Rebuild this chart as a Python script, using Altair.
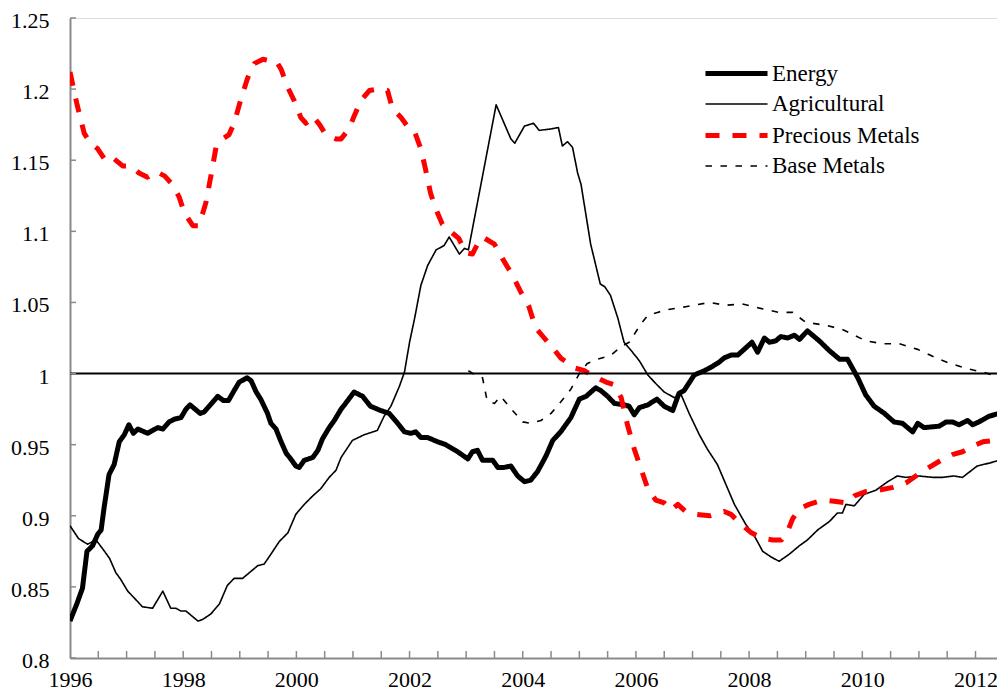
import altair as alt
import pandas as pd

series_names = ["Energy", "Agricultural", "Precious Metals", "Base Metals"]
series_colors = ["#000000", "#000000", "#FF0000", "#000000"]
series_widths = [5, 1.6, 5, 1.6]
series_dashes = [[1, 0], [1, 0], [14, 13], [6.5, 8.5]]

energy_years = [1996.00, 1996.12, 1996.22, 1996.30, 1996.40, 1996.49, 1996.55, 1996.60, 1996.69, 1996.78,
                1996.87, 1996.96, 1997.04, 1997.12, 1997.20, 1997.37, 1997.55, 1997.64, 1997.75, 1997.85,
                1997.96, 1998.05, 1998.12, 1998.30, 1998.37, 1998.61, 1998.71, 1998.80, 1998.90, 1998.99,
                1999.13, 1999.20, 1999.29, 1999.37, 1999.49, 1999.55, 1999.64, 1999.73, 1999.82, 1999.90,
                1999.99, 2000.05, 2000.14, 2000.29, 2000.38, 2000.46, 2000.58, 2000.67, 2000.79, 2000.85,
                2001.02, 2001.17, 2001.31, 2001.49, 2001.64, 2001.79, 2001.91, 2002.02, 2002.11, 2002.20,
                2002.32, 2002.50, 2002.64, 2002.85, 2003.03, 2003.11, 2003.20, 2003.29, 2003.47, 2003.56,
                2003.67, 2003.79, 2003.91, 2004.03, 2004.14, 2004.26, 2004.41, 2004.53, 2004.67, 2004.85,
                2005.00, 2005.12, 2005.29, 2005.38, 2005.50, 2005.62, 2005.79, 2005.88, 2005.97, 2006.06,
                2006.21, 2006.37, 2006.50, 2006.65, 2006.76, 2006.85, 2007.03, 2007.21, 2007.35, 2007.47,
                2007.56, 2007.68, 2007.80, 2007.94, 2008.05, 2008.15, 2008.27, 2008.36, 2008.47, 2008.56,
                2008.68, 2008.80, 2008.89, 2009.03, 2009.24, 2009.42, 2009.60, 2009.74, 2009.92, 2010.06,
                2010.21, 2010.39, 2010.56, 2010.71, 2010.89, 2010.98, 2011.09, 2011.36, 2011.48, 2011.59,
                2011.71, 2011.86, 2011.95, 2012.06, 2012.24, 2012.42, 2012.54]
energy_values = [0.826, 0.838, 0.849, 0.875, 0.879, 0.887, 0.890, 0.905, 0.929, 0.936,
                 0.952, 0.957, 0.964, 0.958, 0.961, 0.958, 0.962, 0.961, 0.966, 0.968,
                 0.969, 0.975, 0.978, 0.972, 0.973, 0.984, 0.981, 0.981, 0.988, 0.994,
                 0.997, 0.995, 0.987, 0.982, 0.972, 0.965, 0.961, 0.952, 0.944, 0.940,
                 0.935, 0.934, 0.939, 0.941, 0.946, 0.954, 0.962, 0.967, 0.975, 0.978,
                 0.987, 0.984, 0.977, 0.974, 0.972, 0.965, 0.959, 0.958, 0.959, 0.955,
                 0.955, 0.952, 0.950, 0.945, 0.940, 0.945, 0.946, 0.939, 0.939, 0.934,
                 0.934, 0.935, 0.928, 0.924, 0.925, 0.931, 0.942, 0.953, 0.959, 0.969,
                 0.982, 0.984, 0.990, 0.988, 0.984, 0.979, 0.978, 0.977, 0.971, 0.976,
                 0.978, 0.982, 0.977, 0.974, 0.986, 0.988, 0.999, 1.002, 1.005, 1.008,
                 1.011, 1.013, 1.013, 1.018, 1.022, 1.015, 1.025, 1.022, 1.023, 1.026,
                 1.025, 1.027, 1.024, 1.030, 1.023, 1.016, 1.010, 1.010, 0.997, 0.985,
                 0.977, 0.972, 0.966, 0.965, 0.959, 0.965, 0.962, 0.963, 0.966, 0.966,
                 0.964, 0.967, 0.964, 0.966, 0.970, 0.972, 0.971]

agri_years = [1996.00, 1996.15, 1996.31, 1996.46, 1996.61, 1996.70, 1996.81, 1996.90, 1997.02, 1997.14,
              1997.28, 1997.46, 1997.64, 1997.78, 1997.87, 1997.96, 1998.05, 1998.26, 1998.34, 1998.49,
              1998.64, 1998.78, 1998.90, 1999.05, 1999.17, 1999.32, 1999.43, 1999.55, 1999.70, 1999.85,
              1999.99, 2000.14, 2000.29, 2000.43, 2000.58, 2000.70, 2000.79, 2000.99, 2001.20, 2001.43,
              2001.55, 2001.67, 2001.82, 2001.91, 2002.00, 2002.09, 2002.20, 2002.32, 2002.47, 2002.61,
              2002.70, 2002.88, 2002.97, 2003.04, 2003.29, 2003.53, 2003.79, 2003.86, 2004.03, 2004.19,
              2004.29, 2004.50, 2004.63, 2004.70, 2004.79, 2004.88, 2004.97, 2005.03, 2005.20, 2005.37,
              2005.45, 2005.55, 2005.68, 2005.79, 2005.94, 2006.06, 2006.21, 2006.35, 2006.50, 2006.68,
              2006.80, 2006.94, 2007.12, 2007.26, 2007.44, 2007.59, 2007.74, 2007.94, 2008.09, 2008.24,
              2008.39, 2008.53, 2008.71, 2008.89, 2009.03, 2009.21, 2009.42, 2009.56, 2009.65, 2009.71,
              2009.86, 2010.03, 2010.24, 2010.45, 2010.62, 2010.77, 2011.00, 2011.24, 2011.42, 2011.62,
              2011.77, 2012.03, 2012.24, 2012.42, 2012.54]
agri_values = [0.893, 0.884, 0.880, 0.883, 0.875, 0.870, 0.860, 0.855, 0.847, 0.842,
               0.836, 0.835, 0.847, 0.835, 0.835, 0.833, 0.833, 0.826, 0.827, 0.831,
               0.838, 0.851, 0.856, 0.856, 0.860, 0.865, 0.866, 0.873, 0.882, 0.888,
               0.901, 0.908, 0.914, 0.919, 0.927, 0.932, 0.941, 0.953, 0.957, 0.960,
               0.970, 0.977, 0.991, 1.001, 1.022, 1.039, 1.062, 1.076, 1.087, 1.090,
               1.096, 1.084, 1.088, 1.087, 1.139, 1.189, 1.165, 1.162, 1.174, 1.176,
               1.171, 1.172, 1.173, 1.160, 1.163, 1.159, 1.141, 1.133, 1.091, 1.063,
               1.061, 1.055, 1.039, 1.022, 1.015, 1.009, 0.999, 0.993, 0.987, 0.983,
               0.985, 0.972, 0.957, 0.947, 0.936, 0.922, 0.908, 0.894, 0.886, 0.875,
               0.871, 0.868, 0.873, 0.879, 0.883, 0.890, 0.896, 0.902, 0.902, 0.908,
               0.907, 0.915, 0.918, 0.924, 0.928, 0.927, 0.928, 0.927, 0.927, 0.928,
               0.927, 0.935, 0.937, 0.939, 0.943]

precious_years = [1996.00, 1996.12, 1996.25, 1996.36, 1996.49, 1996.64, 1996.78, 1996.93, 1997.08, 1997.22,
                  1997.37, 1997.52, 1997.67, 1997.81, 1997.93, 1998.02, 1998.17, 1998.28, 1998.40, 1998.49,
                  1998.58, 1998.70, 1998.81, 1998.90, 1999.02, 1999.14, 1999.26, 1999.41, 1999.52, 1999.64,
                  1999.73, 1999.85, 1999.96, 2000.08, 2000.17, 2000.29, 2000.41, 2000.52, 2000.70, 2000.79,
                  2000.93, 2001.02, 2001.14, 2001.29, 2001.43, 2001.61, 2001.70, 2001.85, 2001.96, 2002.08,
                  2002.20, 2002.28, 2002.37, 2002.46, 2002.58, 2002.72, 2002.87, 2002.99, 2003.11, 2003.20,
                  2003.29, 2003.50, 2003.64, 2003.82, 2003.97, 2004.11, 2004.23, 2004.38, 2004.53, 2004.67,
                  2004.91, 2005.09, 2005.26, 2005.47, 2005.62, 2005.74, 2005.85, 2005.97, 2006.09, 2006.21,
                  2006.35, 2006.50, 2006.62, 2006.74, 2006.88, 2007.06, 2007.30, 2007.56, 2007.68, 2007.83,
                  2008.04, 2008.24, 2008.42, 2008.57, 2008.68, 2008.77, 2008.89, 2009.06, 2009.30, 2009.54,
                  2009.72, 2009.86, 2010.06, 2010.30, 2010.54, 2010.77, 2010.98, 2011.18, 2011.39, 2011.59,
                  2011.77, 2011.95, 2012.13, 2012.33, 2012.54]
precious_values = [1.212, 1.190, 1.169, 1.162, 1.158, 1.149, 1.151, 1.146, 1.146, 1.141,
                   1.138, 1.142, 1.139, 1.133, 1.124, 1.113, 1.104, 1.104, 1.120, 1.139,
                   1.159, 1.165, 1.168, 1.176, 1.193, 1.208, 1.218, 1.221, 1.220, 1.220,
                   1.214, 1.201, 1.192, 1.180, 1.176, 1.181, 1.175, 1.168, 1.165, 1.165,
                   1.172, 1.181, 1.192, 1.199, 1.200, 1.199, 1.186, 1.180, 1.174, 1.171,
                   1.158, 1.144, 1.127, 1.116, 1.105, 1.100, 1.095, 1.085, 1.084, 1.091,
                   1.096, 1.091, 1.081, 1.069, 1.057, 1.047, 1.032, 1.025, 1.018, 1.011,
                   1.004, 1.002, 0.998, 0.994, 0.992, 0.983, 0.964, 0.947, 0.933, 0.919,
                   0.911, 0.909, 0.904, 0.908, 0.903, 0.901, 0.900, 0.903, 0.901, 0.895,
                   0.888, 0.884, 0.883, 0.883, 0.889, 0.898, 0.905, 0.908, 0.911, 0.910,
                   0.909, 0.914, 0.917, 0.918, 0.920, 0.923, 0.929, 0.934, 0.939, 0.943,
                   0.945, 0.949, 0.952, 0.953, 0.952]

base_years = [2003.04, 2003.20, 2003.29, 2003.37, 2003.50, 2003.61, 2003.82, 2004.00, 2004.14, 2004.32,
              2004.50, 2004.67, 2004.85, 2005.00, 2005.14, 2005.32, 2005.56, 2005.74, 2005.88, 2006.09,
              2006.21, 2006.38, 2006.56, 2006.88, 2007.30, 2007.59, 2007.88, 2008.18, 2008.53, 2008.77,
              2009.00, 2009.35, 2009.65, 2010.06, 2010.36, 2010.65, 2010.98, 2011.36, 2011.56, 2011.90,
              2012.13, 2012.30, 2012.54]
base_values = [1.002, 0.998, 0.997, 0.981, 0.979, 0.984, 0.974, 0.966, 0.965, 0.967,
               0.972, 0.980, 0.989, 1.000, 1.007, 1.010, 1.013, 1.019, 1.022, 1.035,
               1.041, 1.043, 1.045, 1.047, 1.050, 1.048, 1.049, 1.046, 1.043, 1.043,
               1.036, 1.034, 1.031, 1.023, 1.021, 1.021, 1.017, 1.010, 1.007, 1.003,
               1.001, 0.999, 0.998]

x_label_values = [1996, 1998, 2000, 2002, 2004, 2006, 2008, 2010, 2012]
x_minor_ticks = [1996 + 0.5 * i for i in range(34)]
y_tick_values = [0.8, 0.85, 0.9, 0.95, 1.0, 1.05, 1.1, 1.15, 1.2, 1.25]
reference_level = [1.0]

X_DOMAIN = [1996, 2012.38]
Y_DOMAIN = [0.8, 1.25]
W, H = 927, 640
FONT = "Liberation Serif"
AXIS_GREY = "#8a8a8a"

frames = []
for name, xs, ys in [("Energy", energy_years, energy_values),
                     ("Agricultural", agri_years, agri_values),
                     ("Precious Metals", precious_years, precious_values),
                     ("Base Metals", base_years, base_values)]:
    frames.append(pd.DataFrame({"year": xs, "value": ys, "series": name}))
df = pd.concat(frames, ignore_index=True)

xscale = alt.Scale(domain=X_DOMAIN, nice=False, zero=False)
yscale = alt.Scale(domain=Y_DOMAIN, nice=False, zero=False)

x_axis = alt.Axis(values=x_label_values, format="d", title=None, ticks=False, tickSize=0,
                  grid=False, labelFlush=False, labelPadding=11, labelFontSize=22,
                  labelFont=FONT, labelColor="black", domainColor=AXIS_GREY,
                  domainWidth=2, labelOverlap=False)
y_axis = alt.Axis(values=y_tick_values, labelExpr="format(datum.value, '.2~f')",
                  title=None, ticks=False, tickSize=0, grid=False, labelPadding=21,
                  labelOffset=2.5, labelFontSize=22, labelFont=FONT, labelColor="black",
                  domainColor=AXIS_GREY, domainWidth=2, labelOverlap=False)

legend = alt.Legend(orient="none", legendX=653, legendY=42, title=None,
                    symbolType="M-2.82,0L2.82,0", symbolSize=484, labelFont=FONT,
                    labelFontSize=23, labelColor="black", labelOffset=22,
                    rowPadding=6, padding=0)

lines = alt.Chart(df).mark_line(clip=True, strokeCap="butt", strokeJoin="round").encode(
    x=alt.X("year:Q", scale=xscale, axis=x_axis),
    y=alt.Y("value:Q", scale=yscale, axis=y_axis),
    color=alt.Color("series:N", scale=alt.Scale(domain=series_names, range=series_colors),
                    legend=legend),
    strokeDash=alt.StrokeDash("series:N",
                              scale=alt.Scale(type="ordinal", domain=series_names, range=series_dashes),
                              legend=legend),
    strokeWidth=alt.StrokeWidth("series:N",
                                scale=alt.Scale(type="ordinal", domain=series_names, range=series_widths),
                                legend=legend),
    order=alt.Order("year:Q"),
)

ref_line = alt.Chart(pd.DataFrame({"level": reference_level})).mark_rule(
    color="black", strokeWidth=2).encode(y=alt.Y("level:Q", scale=yscale, axis=y_axis))

y_ticks = alt.Chart(pd.DataFrame({"level": y_tick_values})).mark_rule(
    color=AXIS_GREY, strokeWidth=1.5).encode(
    y=alt.Y("level:Q", scale=yscale, axis=y_axis), x=alt.value(0), x2=alt.value(6))

x_ticks = alt.Chart(pd.DataFrame({"year": x_minor_ticks})).mark_rule(
    color=AXIS_GREY, strokeWidth=1.5, clip=True).encode(
    x=alt.X("year:Q", scale=xscale, axis=x_axis), y=alt.value(H), y2=alt.value(H - 7))

chart = alt.layer(lines, ref_line, y_ticks, x_ticks).properties(
    width=W, height=H,
    autosize=alt.AutoSizeParams(type="none"),
    padding={"left": 62, "top": 10, "right": 0, "bottom": 34},
).configure_view(stroke=None).configure(font=FONT, background="white")

chart.save("out.html", embed_options={"renderer": "svg", "actions": False})
